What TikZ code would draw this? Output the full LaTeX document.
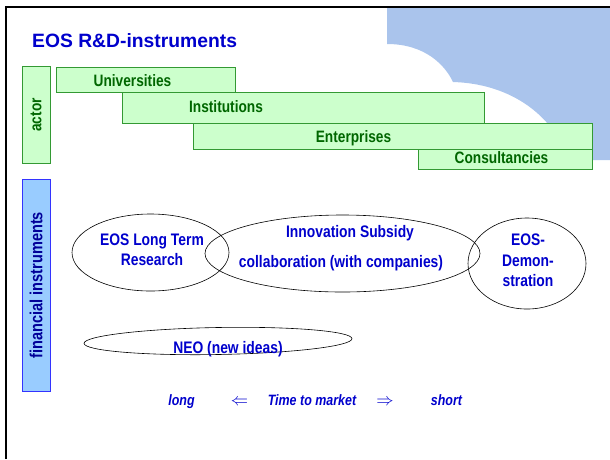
\documentclass[tikz,border=0pt]{standalone}
\usepackage{fontspec}
\setmainfont{Liberation Sans}
\newfontfamily\narrowsf[FakeStretch=0.83]{Liberation Sans}
\usetikzlibrary{shapes.geometric}

\definecolor{eosblue}{HTML}{0000CC}
\definecolor{cloudblue}{HTML}{AAC4EC}
\definecolor{barfill}{HTML}{CCFFCC}
\definecolor{barline}{HTML}{339933}
\definecolor{bartext}{HTML}{006600}
\definecolor{finfill}{HTML}{99CCFF}
\definecolor{finline}{HTML}{3333FF}
\definecolor{fintext}{HTML}{000099}

\tikzset{
  bar/.style={draw=barline, fill=barfill, line width=0.8pt, inner sep=0pt, anchor=north west},
  bartxt/.style={anchor=base, text=bartext, inner sep=0pt, font=\narrowsf\bfseries\fontsize{16.5}{19}\selectfont},
  sidebox/.style={rotate=90, line width=0.8pt, inner sep=0pt, font=\narrowsf\bfseries\fontsize{16.5}{19}\selectfont},
  oval/.style={draw, ellipse, inner sep=0pt, line width=0.6pt},
  ovaltxt/.style={anchor=base, text=eosblue, inner sep=0pt, font=\narrowsf\bfseries\fontsize{16.7}{19}\selectfont},
  timetxt/.style={anchor=base, text=eosblue, inner sep=0pt, font=\narrowsf\bfseries\itshape\fontsize{15}{17}\selectfont}
}

\begin{document}
\begin{tikzpicture}[x=1pt,y=-1pt]
  \useasboundingbox (0,0) rectangle (610,459);
  % cloud in the upper right corner
  \fill[cloudblue] (387,8) -- (610,8) -- (610,160) -- (568,160)
    .. controls (558,125) and (520,84) .. (453,82)
    .. controls (445,65) and (425,44) .. (387,44) -- cycle;
  % frame
  \draw[line width=2pt] (6,459) -- (6,7) -- (610,7);
  \node[anchor=base west, inner sep=0pt, text=eosblue, font=\bfseries\fontsize{19.3}{22}\selectfont] (title) at (32,47) {EOS R\&D-instruments};

  % actors
  \node[sidebox, draw=barline, fill=barfill, text=bartext, minimum width=97pt, minimum height=28pt] (actor) at (36,115) {actor};
  \node[bar, minimum width=179pt, minimum height=25pt] (univ) at (56,67) {};
  \node[bartxt] (univ-t) at (132.5,86) {Universities};
  \node[bar, minimum width=362pt, minimum height=31pt] (inst) at (122,92) {};
  \node[bartxt] (inst-t) at (226,112) {Institutions};
  \node[bar, minimum width=399pt, minimum height=26pt] (ent) at (193,123) {};
  \node[bartxt] (ent-t) at (353.5,142) {Enterprises};
  \node[bar, minimum width=174pt, minimum height=20pt] (cons) at (418,149) {};
  \node[bartxt] (cons-t) at (501.5,163) {Consultancies};

  % financial instruments
  \node[sidebox, draw=finline, fill=finfill, text=fintext, minimum width=212pt, minimum height=28pt, font=\narrowsf\bfseries\fontsize{17.5}{20}\selectfont] (fin) at (36,285) {financial instruments};
  \node[oval, minimum width=157pt, minimum height=77pt] (ltr) at (150.5,252.5) {};
  \node[oval, minimum width=275pt, minimum height=77pt] (innov) at (342.5,253.5) {};
  \node[oval, minimum width=118pt, minimum height=91pt] (demo) at (527,263.5) {};
  \node[oval, minimum width=268pt, minimum height=27pt, rotate=1] (neo) at (218,341) {};
  \node[ovaltxt] (ltr-a) at (152,245.5) {EOS Long Term};
  \node[ovaltxt] (ltr-b) at (152,265) {Research};
  \node[ovaltxt] (innov-a) at (350,237) {Innovation Subsidy};
  \node[ovaltxt] (innov-b) at (341,267) {collaboration (with companies)};
  \node[ovaltxt] (demo-a) at (528,245.5) {EOS-};
  \node[ovaltxt] (demo-b) at (528,266) {Demon-};
  \node[ovaltxt] (demo-c) at (528,286) {stration};
  \node[ovaltxt] (neo-t) at (228,353) {NEO (new ideas)};

  % time to market
  \node[timetxt] (long) at (181.5,405) {long};
  \node[timetxt, font=\fontsize{17}{19}\selectfont] (larr) at (239.5,405) {$\Leftarrow$};
  \node[timetxt] (ttm) at (312,405) {Time to market};
  \node[timetxt, font=\fontsize{17}{19}\selectfont] (rarr) at (385,405) {$\Rightarrow$};
  \node[timetxt] (short) at (446.5,405) {short};
\end{tikzpicture}
\end{document}
